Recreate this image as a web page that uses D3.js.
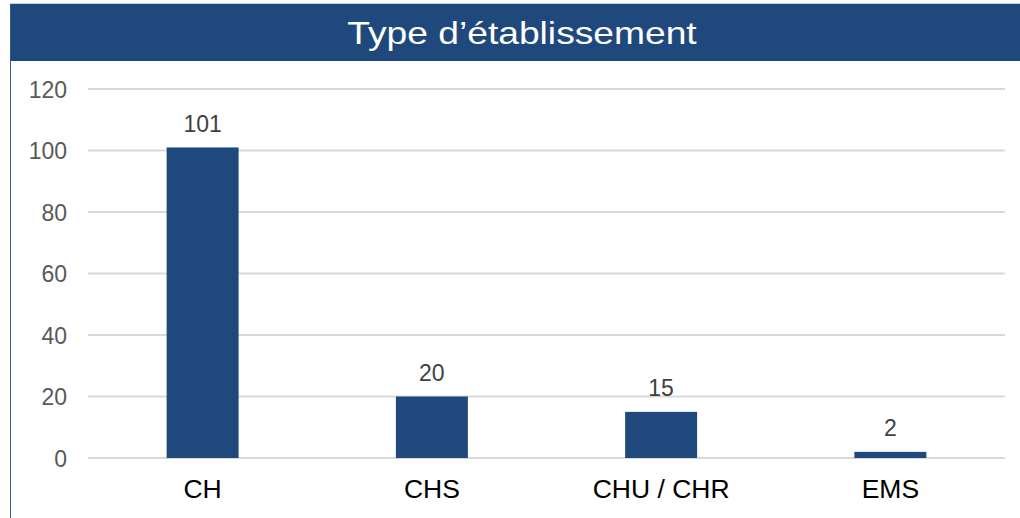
<!DOCTYPE html>
<html>
<head>
<meta charset="utf-8">
<script src="https://cdn.jsdelivr.net/npm/d3@7"></script>
<style>
  body { margin: 0; background: #fff; }
  text { font-family: "Liberation Sans", Arial, sans-serif; }
</style>
</head>
<body>
<div id="chart"></div>
<script>
const categories = ["CH", "CHS", "CHU / CHR", "EMS"];
const values = [101, 20, 15, 2];
const yTicks = [0, 20, 40, 60, 80, 100, 120];
const title = "Type d\u2019établissement";

const W = 1020, H = 518;
const margin = { top: 89, right: 15, bottom: 60, left: 88 };
const width = W - margin.left - margin.right,
  height = 458 - margin.top;
const font = "'Liberation Sans', Arial, sans-serif";

const svg = d3
  .select("#chart")
  .append("svg")
  .attr("width", W)
  .attr("height", H);

// frame and title bar
svg.append("line")
  .attr("x1", 10).attr("x2", W).attr("y1", 3.5).attr("y2", 3.5)
  .attr("stroke", "#c8d0da").attr("stroke-width", 1);
svg.append("rect")
  .attr("x", 10).attr("y", 4).attr("width", W - 10).attr("height", 57)
  .attr("fill", "#1f497d");
svg.append("line")
  .attr("x1", 10.5).attr("x2", 10.5).attr("y1", 4).attr("y2", H)
  .attr("stroke", "#2e5c96").attr("stroke-width", 1);
svg.append("text")
  .attr("transform", "translate(522,43.5) scale(1.2,1)")
  .attr("text-anchor", "middle")
  .attr("fill", "#fff")
  .style("font-size", "31px")
  .text(title);

const g = svg.append("g")
  .attr("transform", `translate(${margin.left},${margin.top})`);

const x = d3.scaleBand().domain(categories).range([0, width]).padding(0);
const y = d3.scaleLinear().domain([0, 120]).range([height, 0]);
const barW = x.bandwidth() * 0.314;

// gridlines
g.selectAll(".grid")
  .data(yTicks)
  .enter()
  .append("line")
  .attr("class", "grid")
  .attr("x1", 0).attr("x2", width)
  .attr("y1", (d) => y(d)).attr("y2", (d) => y(d))
  .attr("stroke", "#d9d9d9").attr("stroke-width", 2);

// y axis labels
const yAxis = d3.axisLeft(y).tickValues(yTicks).tickSize(0).tickPadding(21);
g.append("g").call(yAxis).call((a) => {
  a.select(".domain").remove();
  a.selectAll("text")
    .attr("fill", "#595959")
    .attr("dy", "0.35em")
    .style("font-size", "23px")
    .style("font-family", font);
});

// bars
g.selectAll(".bar")
  .data(values)
  .enter()
  .append("rect")
  .attr("class", "bar")
  .attr("x", (d, i) => x(categories[i]) + (x.bandwidth() - barW) / 2)
  .attr("y", (d) => y(d))
  .attr("width", barW)
  .attr("height", (d) => y(0) - y(d))
  .attr("fill", "#1f497d");

// value labels
g.selectAll(".val")
  .data(values)
  .enter()
  .append("text")
  .attr("class", "val")
  .attr("x", (d, i) => x(categories[i]) + x.bandwidth() / 2)
  .attr("y", (d) => y(d) - 15.5)
  .attr("text-anchor", "middle")
  .attr("fill", "#404040")
  .style("font-size", "23px")
  .text((d) => d);

// category labels
const xAxis = d3.axisBottom(x).tickSize(0).tickPadding(21);
g.append("g")
  .attr("transform", `translate(0,${height})`)
  .call(xAxis)
  .call((a) => {
    a.select(".domain").remove();
    a.selectAll("text")
      .attr("fill", "#000")
      .attr("dy", "0.71em")
      .style("font-size", "26.5px")
      .style("font-family", font);
  });
</script>
</body>
</html>
